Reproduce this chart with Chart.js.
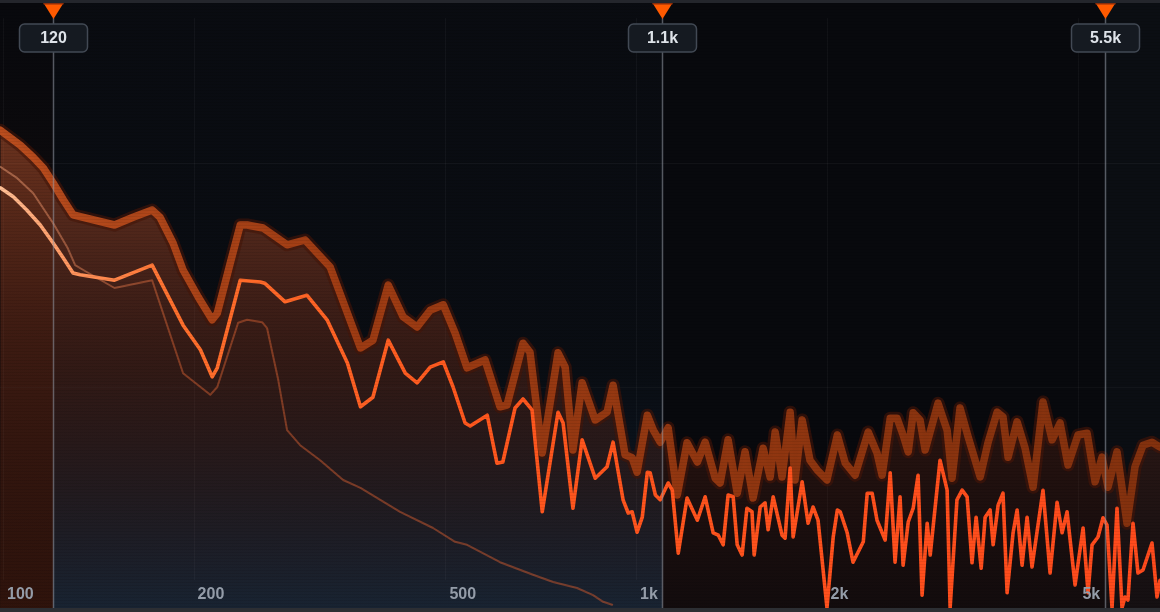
<!DOCTYPE html>
<html>
<head>
<meta charset="utf-8">
<script src="https://cdn.jsdelivr.net/npm/chart.js@4.4.1/dist/chart.umd.min.js"></script>
<style>
  html,body{margin:0;padding:0;background:#08090d;}
  #wrap{width:1160px;height:612px;position:relative;}
</style>
</head>
<body>
<div id="wrap"><canvas id="c" width="1160" height="612"></canvas></div>
<script>
// ---- axis / marker definitions ----
const freqRange = [98.9, 6727];
const dbRange = [-102, 0];
const freqTicks = [100, 200, 500, 1000, 2000, 5000];
const freqTickLabels = ['100', '200', '500', '1k', '2k', '5k'];
const markerFreqs = [120, 1100, 5500];
const markerLabels = ['120', '1.1k', '5.5k'];
const gridDb = [-27.2, -64.5];

// ---- main (current) spectrum ----
const mainFreq = [99,103.8,109,114.5,120,124.5,129,132.4,150,172,192.5,205,214,218,237,255,259,279,302,325,350,367,384,406,432,451,473,496,514,537,547,582,603,616,644,663,685,711,753,767,795,822,862,900,920,954,972,986,1004,1023,1042,1053,1073,1092,1124,1141,1166,1204,1250,1286,1324,1349,1373,1398,1424,1445,1471,1497,1525,1537,1571,1599,1617,1647,1701,1720,1752,1771,1830,1870,1904,1939,2003,2049,2080,2102,2156,2202,2286,2319,2361,2403,2475,2521,2566,2613,2642,2692,2741,2790,2831,2884,2916,3022,3101,3135,3214,3275,3335,3395,3446,3510,3561,3626,3666,3733,3800,3857,3942,4000,4073,4148,4223,4395,4510,4626,4711,4797,4939,5085,5178,5254,5369,5468,5548,5650,5753,5859,5923,5987,6098,6209,6324,6534,6654,6727];
const mainDb = [-31.3,-32.8,-35,-37.5,-40.5,-43,-45.5,-45.8,-46.7,-44.2,-54.2,-58.3,-62.8,-61.3,-46.7,-47,-47.2,-50.3,-49.2,-53.3,-60.5,-67.8,-66.2,-56.7,-62.2,-63.8,-61.2,-60.3,-64.5,-70.5,-71,-69.2,-77.2,-77,-68,-66.5,-68.3,-85.3,-68.7,-70.5,-84.7,-73.3,-79.7,-77.8,-73.7,-83.3,-85.5,-85.3,-88.7,-86.2,-78.7,-78.8,-82.5,-83.3,-80.5,-81.7,-92.2,-83,-86.7,-82.8,-88.8,-89.2,-90.8,-82.5,-82.8,-90.8,-92.5,-84.7,-85.3,-92.5,-84.5,-83.8,-88.3,-82.8,-89.2,-89.7,-78,-89.5,-80.3,-87.2,-84.5,-86.7,-101.3,-89.5,-85,-85.3,-88.8,-93.7,-90.3,-82.2,-82.2,-86.7,-90,-78.8,-93.7,-82.8,-94.2,-87,-84.7,-79.2,-99.2,-87.2,-92.5,-76.7,-81.7,-101.3,-83.3,-81.7,-82.8,-93.8,-86.2,-94.7,-86.2,-85,-90.8,-84.2,-82.2,-98.8,-88.8,-85,-94.2,-86.2,-94.5,-81.7,-95.5,-83.7,-88.8,-85.3,-97.5,-88,-98.8,-90.8,-89.5,-86.3,-87.5,-101.3,-84.7,-101.3,-99.5,-100,-87.2,-95.5,-95,-90.5,-99.5,-96.7];

// ---- peak-hold spectrum ----
const peakFreq = [99,106.5,111.6,115.8,120,124.5,129,150,160.5,172,177,185.6,192.5,203.4,214,218,228.6,237,243,257.5,281,300,328.7,367,384,406,428.6,451,473,496,517.8,540.8,577.4,609.8,625.5,663,680,711,753,772.8,795,822,862,900,920,961,986,1004,1042,1065,1092,1124,1162,1204,1250,1286,1334,1358,1398,1445,1487,1531,1588,1629,1659,1701,1752,1783,1830,1883,1932,2003,2080,2141,2219,2327,2403,2448,2521,2585,2642,2692,2741,2810,2863,3000,3101,3157,3250,3347,3497,3600,3719,3800,3871,4000,4118,4239,4395,4543,4677,4814,4992,5159,5312,5448,5568,5753,5966,6142,6324,6534,6727];
const peakDb = [-21.7,-24.2,-26.2,-28,-30.5,-33.3,-35.8,-37.5,-36.2,-35,-36.2,-40.5,-45,-49.5,-53.3,-52.2,-43.8,-37.5,-37.5,-38,-40.8,-40,-44.5,-58,-56.7,-47.5,-52.8,-54.5,-51.7,-50.8,-55.5,-61.3,-60,-67.8,-67.5,-57.2,-58.7,-75.5,-58.8,-61.2,-75,-63.8,-70,-68.7,-64.2,-75.8,-76.3,-78.7,-69.2,-71.7,-73.7,-71.3,-82.5,-73.8,-77,-73.7,-79.7,-80.5,-73.3,-82.2,-75.3,-83,-74.7,-79.5,-72,-79.5,-68.7,-80,-70,-76.7,-78.3,-80,-72.5,-77.2,-79.2,-72,-75.5,-79.2,-69.7,-69.7,-72.5,-75.3,-68.8,-70,-75,-67.2,-71.7,-79.7,-68,-72.8,-79.5,-73.7,-68.7,-69.5,-76.2,-70.3,-74.7,-81.2,-67,-73.3,-70.5,-77.5,-72.5,-72.2,-80.3,-76.2,-81.2,-75.3,-87.2,-77.8,-74.2,-73.7,-74.5];

// ---- reference (thin) spectrum ----
const refFreq = [99,105.3,111.6,120,126.3,130,133.9,150,172,192.5,212.5,218,235.2,243,256.6,261.3,272.1,281,294.7,316.9,344.6,367,423.9,477.9,517.8,540.8,609.8,687.5,739.7,806.9,855.4,887.3,916.8];
const refDb = [-27.8,-29.7,-32.2,-37.2,-41.2,-44.2,-45,-48,-46.7,-62.2,-65.8,-64.5,-53.8,-53.3,-53.7,-54.7,-63.3,-71.7,-74.2,-76.7,-80,-81.3,-85.3,-88,-90.3,-90.8,-93.7,-95.8,-97,-98,-99.2,-100.3,-100.8];

const toPts = (fs, ds) => fs.map((f, i) => ({x: f, y: ds[i]}));

function hGrad(chart, stops) {
  const a = chart.chartArea;
  if (!a) return stops[0][1];
  const g = chart.ctx.createLinearGradient(a.left, 0, a.right, 0);
  stops.forEach(s => g.addColorStop(s[0], s[1]));
  return g;
}
function vGrad(chart, stops) {
  const a = chart.chartArea;
  if (!a) return stops[0][1];
  const g = chart.ctx.createLinearGradient(0, a.top, 0, a.bottom);
  stops.forEach(s => g.addColorStop(s[0], s[1]));
  return g;
}

const bgPlugin = {
  id: 'bg',
  beforeDraw(chart) {
    const {ctx, chartArea: a, scales: {x, y}} = chart;
    const W = chart.width, H = chart.height;
    ctx.save();
    ctx.fillStyle = '#08090d';
    ctx.fillRect(0, 0, W, H);
    const m = markerFreqs.map(f => x.getPixelForValue(f));
    // band 1 (below first marker): brownish red
    let g = ctx.createLinearGradient(0, 0, 0, H);
    g.addColorStop(0, 'rgba(60,20,5,0.0)');
    g.addColorStop(0.5, 'rgba(80,28,8,0.12)');
    g.addColorStop(1, 'rgba(95,32,8,0.38)');
    ctx.fillStyle = g; ctx.fillRect(0, 0, m[0], H);
    // band 2: bluish glow toward bottom
    g = ctx.createLinearGradient(0, 0, 0, H);
    g.addColorStop(0, 'rgba(20,30,45,0.12)');
    g.addColorStop(0.6, 'rgba(20,40,60,0.12)');
    g.addColorStop(1, 'rgba(25,75,115,0.42)');
    ctx.fillStyle = g; ctx.fillRect(m[0], 0, m[1] - m[0], H);
    // band 4
    ctx.fillStyle = 'rgba(40,55,75,0.10)';
    ctx.fillRect(m[2], 0, W - m[2], H);
    // grid
    ctx.strokeStyle = 'rgba(255,255,255,0.04)';
    ctx.lineWidth = 1;
    freqTicks.forEach(f => {
      const px = Math.round(x.getPixelForValue(f)) + 0.5;
      ctx.beginPath(); ctx.moveTo(px, 18); ctx.lineTo(px, 580); ctx.stroke();
    });
    ctx.strokeStyle = 'rgba(255,255,255,0.04)';
    gridDb.forEach(d => {
      const py = Math.round(y.getPixelForValue(d)) + 0.5;
      ctx.beginPath(); ctx.moveTo(a.left, py); ctx.lineTo(a.right, py); ctx.stroke();
    });
    ctx.restore();
  },
  afterDatasetsDraw(chart) {
    const {ctx, scales: {x}} = chart;
    const W = chart.width, H = chart.height;
    ctx.save();
    // subtle scanlines
    ctx.fillStyle = 'rgba(0,0,0,0.07)';
    for (let yy = 0; yy < H; yy += 3) ctx.fillRect(0, yy, W, 1);
    // tick labels
    ctx.font = 'bold 16px "Liberation Sans", Arial, sans-serif';
    ctx.fillStyle = 'rgb(148,156,168)';
    ctx.textAlign = 'left';
    ctx.textBaseline = 'middle';
    freqTicks.forEach((f, i) => {
      ctx.fillText(freqTickLabels[i], x.getPixelForValue(f) + 4, 595);
    });
    // strips
    ctx.fillStyle = 'rgb(36,38,44)';
    ctx.fillRect(0, 0, W, 3);
    ctx.fillStyle = 'rgb(44,46,51)';
    ctx.fillRect(0, 608, W, 4);
    // markers
    markerFreqs.forEach((f, i) => {
      const px = Math.round(x.getPixelForValue(f)) + 0.5;
      ctx.strokeStyle = 'rgba(150,155,165,0.55)';
      ctx.lineWidth = 1.5;
      ctx.beginPath(); ctx.moveTo(px, 18); ctx.lineTo(px, 608); ctx.stroke();
      // triangle
      ctx.fillStyle = '#ff5a00';
      ctx.beginPath();
      ctx.moveTo(px - 10, 3); ctx.lineTo(px + 10, 3); ctx.lineTo(px, 19); ctx.closePath();
      ctx.fill();
      ctx.fillStyle = 'rgb(140,45,10)';
      ctx.fillRect(px - 10, 3, 20, 1.5);
      // label box
      const bx = px - 34, by = 24, bw = 68, bh = 28, r = 5;
      ctx.beginPath();
      ctx.moveTo(bx + r, by);
      ctx.arcTo(bx + bw, by, bx + bw, by + bh, r);
      ctx.arcTo(bx + bw, by + bh, bx, by + bh, r);
      ctx.arcTo(bx, by + bh, bx, by, r);
      ctx.arcTo(bx, by, bx + bw, by, r);
      ctx.closePath();
      ctx.fillStyle = 'rgb(21,26,33)';
      ctx.fill();
      ctx.strokeStyle = 'rgb(66,73,84)';
      ctx.lineWidth = 1.5;
      ctx.stroke();
      ctx.fillStyle = 'rgb(222,227,233)';
      ctx.font = 'bold 16px "Liberation Sans", Arial, sans-serif';
      ctx.textAlign = 'center';
      ctx.textBaseline = 'middle';
      ctx.fillText(markerLabels[i], px, 39);
    });
    ctx.restore();
  }
};

new Chart(document.getElementById('c'), {
  type: 'line',
  data: {
    datasets: [
      {
        label: 'Spectrum',
        data: toPts(mainFreq, mainDb),
        borderWidth: 3.6,
        borderColor: c => hGrad(c.chart, [[0, 'rgb(255,192,150)'], [0.06, 'rgb(255,150,95)'], [0.15, 'rgb(255,112,45)'], [0.4, 'rgb(255,88,30)'], [1, 'rgb(255,74,28)']]),
        order: 1, fill: false
      },
      {
        label: 'Reference',
        data: toPts(refFreq, refDb),
        borderWidth: 2,
        borderColor: c => hGrad(c.chart, [[0, 'rgba(240,160,120,0.5)'], [0.15, 'rgba(210,95,50,0.5)'], [1, 'rgba(200,80,40,0.55)']]),
        order: 2, fill: false
      },
      {
        label: 'Peak',
        data: toPts(peakFreq, peakDb),
        borderWidth: 7.5,
        borderColor: c => hGrad(c.chart, [[0, 'rgba(205,85,32,0.85)'], [0.3, 'rgba(175,66,20,0.85)'], [1, 'rgba(145,54,14,0.85)']]),
        order: 3, fill: false
      },
      {
        label: 'Peak glow',
        data: toPts(peakFreq, peakDb),
        borderWidth: 13,
        borderColor: 'rgba(70,22,8,0.6)',
        backgroundColor: c => vGrad(c.chart, [[0, 'rgba(210,100,55,0.6)'], [0.25, 'rgba(190,85,45,0.5)'], [0.55, 'rgba(140,55,28,0.35)'], [1, 'rgba(90,30,15,0.12)']]),
        fill: 'start',
        order: 4
      }
    ]
  },
  options: {
    responsive: false,
    animation: false,
    devicePixelRatio: 1,
    layout: {padding: 0},
    elements: {
      point: {radius: 0, hoverRadius: 0},
      line: {tension: 0, borderJoinStyle: 'round', borderCapStyle: 'round'}
    },
    plugins: {legend: {display: false}, tooltip: {enabled: false}},
    events: [],
    scales: {
      x: {type: 'logarithmic', min: freqRange[0], max: freqRange[1], display: false},
      y: {type: 'linear', min: dbRange[0], max: dbRange[1], display: false}
    }
  },
  plugins: [bgPlugin]
});
</script>
</body>
</html>
